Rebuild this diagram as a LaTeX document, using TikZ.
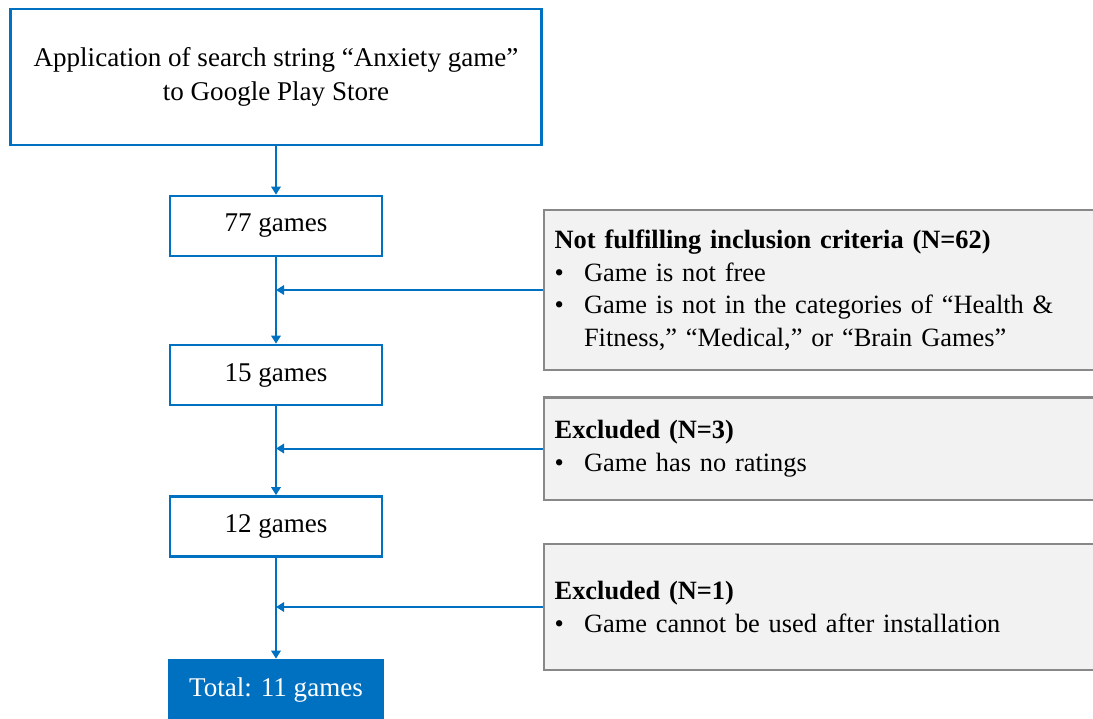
\documentclass[tikz,border=0pt]{standalone}
\usepackage{fontspec}
\setmainfont{Liberation Serif}
\usetikzlibrary{arrows.meta}
\definecolor{flowblue}{HTML}{0070C0}
\definecolor{notegray}{HTML}{F2F2F2}
\definecolor{noteedge}{HTML}{888888}
\newcommand{\bul}[1]{\makebox[22pt][l]{\textbullet}#1}
\tikzset{
  stage/.style={draw=flowblue, line width=2pt, fill=white, align=center,
    font=\fontsize{20.3}{25.5}\selectfont},
  total/.style={stage, fill=flowblue, text=white},
  note/.style={draw=noteedge, line width=2pt, fill=notegray, align=left,
    text width=398pt, inner xsep=8pt, minimum width=414pt,
    font=\fontsize{19.8}{24.4}\selectfont},
  flow/.style={draw=flowblue, line width=1.5pt, -{Triangle[width=7pt,length=6pt]}}
}

\begin{document}
\begin{tikzpicture}[x=0.75pt, y=-0.75pt]
        \useasboundingbox (0,0) rectangle (1093,718);
        % stages
        \node[stage, minimum width=398pt, minimum height=102pt] (search) at (276,77)
            {Application of search string “Anxiety game”\\to Google Play Store};
        \node[stage, minimum width=159pt, minimum height=45pt] (g77) at (276,226) {77 games};
        \node[stage, minimum width=159pt, minimum height=45pt] (g15) at (276,375) {15 games};
        \node[stage, minimum width=159pt, minimum height=45pt] (g12) at (276,526.5) {12 games};
        \node[total, minimum width=160pt, minimum height=45pt] (tot) at (276,690) {Total: 11 games};
        % exclusions
        \node[note, minimum height=120pt] (ex62) at (820,290)
            {\textbf{Not fulfilling inclusion criteria (N=62)}\\
             \bul{Game is not free}\\
             \bul{Game is not in the categories of “Health \&}\\
             \hspace*{22pt}Fitness,” “Medical,” or “Brain Games”};
        \node[note, minimum height=77pt] (ex3) at (820,448.5)
            {\textbf{Excluded (N=3)}\\
             \bul{Game has no ratings}};
        \node[note, minimum height=94.5pt] (ex1) at (820,607)
            {\textbf{Excluded (N=1)}\\
             \bul{Game cannot be used after installation}};
        % connectors
        \draw[flow] (search) -- (g77);
        \draw[flow] (g77) -- (g15);
        \draw[flow] (g15) -- (g12);
        \draw[flow] (g12) -- (tot);
        \draw[flow] (ex62.west) -- (ex62.west -| g77.south);
        \draw[flow] (ex3.west) -- (ex3.west -| g15.south);
        \draw[flow] (ex1.west) -- (ex1.west -| g12.south);
    \end{tikzpicture}
\end{document}
